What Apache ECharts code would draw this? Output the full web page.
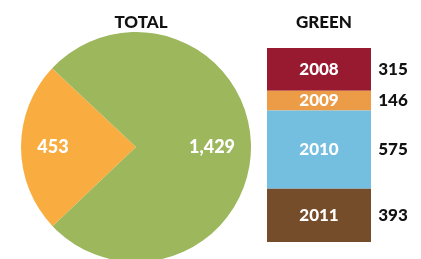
<!DOCTYPE html>
<html>
<head>
<meta charset="utf-8">
<script src="https://cdn.jsdelivr.net/npm/echarts@6/dist/echarts.min.js"></script>
<style>
  html, body { margin: 0; padding: 0; background: #fff; }
  #chart { width: 421px; height: 259px; }
</style>
</head>
<body>
<div id="chart"></div>
<script>
// total split (pie)
const pieNames = ["Other", "Green"];
const pieValues = [453, 1429];
const pieColors = ["#f9ad41", "#9db75d"];

// green by year (stacked bar)
const years = ["2008", "2009", "2010", "2011"];
const greenValues = [315, 146, 575, 393];
const yearColors = ["#981a31", "#ec9c46", "#74bedf", "#754d2a"];

const FONT = "Lato";
const HEAVY = 900;
const PIE_CX = 136, PIE_CY = 147, PIE_R = 115;
// label offsets from the pie centre, along x
const pieLabelDx = [-83, 76];

function renderChart() {
  const chart = echarts.init(document.getElementById("chart"));

  const barSeries = years.map((year, i) => ({
    name: year,
    type: "bar",
    stack: "green",
    barWidth: 104,
    data: [greenValues[i]],
    itemStyle: { color: yearColors[i] },
    label: {
      show: true,
      position: "insideLeft",
      distance: 0,
      formatter: () => `{y|${year}}{v|${greenValues[i]}}`,
      rich: {
        y: { width: 104, align: "center", color: "#fff", fontFamily: FONT, fontWeight: HEAVY, fontSize: 17 },
        v: { width: 44, align: "center", color: "#111", fontFamily: FONT, fontWeight: HEAVY, fontSize: 17 },
      },
    },
    emphasis: { disabled: true },
  }));

  const pieSeries = {
    type: "pie",
    center: [PIE_CX, PIE_CY],
    radius: PIE_R,
    startAngle: 223.5,
    clockwise: true,
    data: pieNames.map((name, i) => ({ name, value: pieValues[i], itemStyle: { color: pieColors[i] } })),
    label: {
      show: true,
      position: "inside",
      formatter: (p) => p.value.toLocaleString("en-US"),
      color: "#fff",
      fontFamily: FONT,
      fontWeight: HEAVY,
      fontSize: 18,
    },
    labelLayout: (p) => ({
      x: PIE_CX + pieLabelDx[p.dataIndex],
      y: PIE_CY,
      align: "center",
      verticalAlign: "middle",
    }),
    emphasis: { disabled: true },
  };

  const titleStyle = { fontFamily: FONT, fontWeight: HEAVY, fontSize: 17, color: "#111" };

  chart.setOption({
    animation: false,
    title: [
      { text: "TOTAL", left: 136, top: 9, textAlign: "center", textStyle: titleStyle },
      { text: "GREEN", left: 319, top: 9, textAlign: "center", textStyle: titleStyle },
    ],
    grid: { left: 267, width: 104, top: 48, bottom: 17 },
    xAxis: { type: "category", data: ["GREEN"], show: false },
    yAxis: { type: "value", inverse: true, min: 0, max: 1429, show: false },
    series: [pieSeries, ...barSeries],
  });
}

document.addEventListener("DOMContentLoaded", renderChart);
</script>
</body>
</html>
